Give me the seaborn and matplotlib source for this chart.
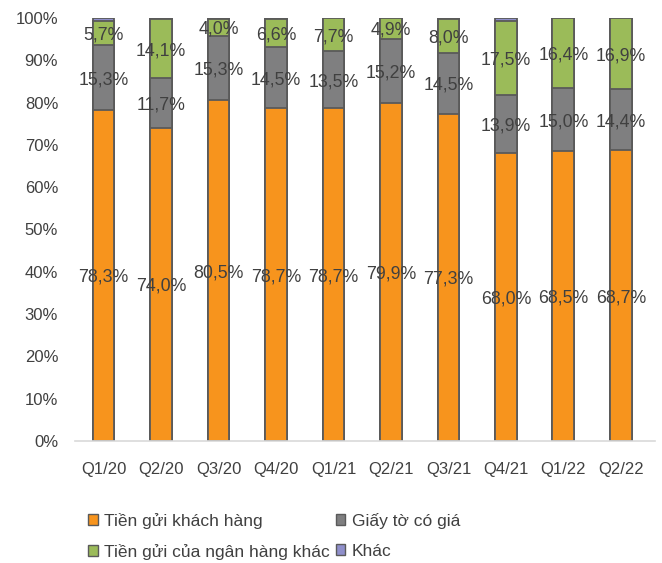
import matplotlib
matplotlib.use("Agg")
import matplotlib.pyplot as plt
import seaborn as sns
import pandas as pd
import numpy as np
from matplotlib.patches import Patch

quarters = ["Q1/20", "Q2/20", "Q3/20", "Q4/20", "Q1/21", "Q2/21", "Q3/21", "Q4/21", "Q1/22", "Q2/22"]
tien_gui_kh = [78.3, 74.0, 80.5, 78.7, 78.7, 79.9, 77.3, 68.0, 68.5, 68.7]
giay_to = [15.3, 11.7, 15.3, 14.5, 13.5, 15.2, 14.5, 13.9, 15.0, 14.4]
tien_gui_nh = [5.7, 14.1, 4.0, 6.6, 7.7, 4.9, 8.0, 17.5, 16.4, 16.9]
khac = [0.7, 0.2, 0.2, 0.2, 0.1, 0.0, 0.2, 0.6, 0.1, 0.0]

series_names = ["Tiền gửi khách hàng", "Giấy tờ có giá", "Tiền gửi của ngân hàng khác", "Khác"]
colors = ["#F7941D", "#7F7F80", "#9BBB59", "#8F8FCB"]

sns.set_style("white")
plt.rcParams["font.family"] = ["Liberation Sans", "DejaVu Sans"]

df = pd.DataFrame({"quarter": quarters, "kh": tien_gui_kh, "gt": giay_to, "nh": tien_gui_nh, "khac": khac})
cols = ["kh", "gt", "nh", "khac"]
cum = df[cols].cumsum(axis=1)

fig = plt.figure(figsize=(6.62, 5.63), dpi=100)
ax = fig.add_axes([0.113, 0.217, 0.877, 0.751])

# stacked bars: draw from the top cumulative down
for i in range(3, -1, -1):
    sns.barplot(x=df["quarter"], y=cum[cols[i]], color=colors[i], width=0.38,
                edgecolor="#5A5A5A", linewidth=1.3, saturation=1, ax=ax)

# labels for first three series
txt = "#404040"
fs = 12
for j in range(len(quarters)):
    base = 0
    for i, c in enumerate(cols[:3]):
        v = df[c][j]
        ax.annotate(f"{v:.1f}%".replace(".", ","), (j, base + v / 2), xytext=(0, -1.5),
                    textcoords="offset points", ha="center", va="center",
                    fontsize=12.8, color=txt)
        base += v

ax.set_ylim(0, 100)
ax.set_xlim(-0.5, 9.6)
ax.set_yticks(np.arange(0, 101, 10))
ax.set_yticklabels([f"{t}%" for t in range(0, 101, 10)])
ax.tick_params(axis="both", length=0, labelsize=fs, labelcolor=txt)
ax.tick_params(axis="x", pad=15)
ax.tick_params(axis="y", pad=12)
ax.set_xlabel("")
ax.set_ylabel("")
for s in ["top", "right", "left"]:
    ax.spines[s].set_visible(False)
ax.spines["bottom"].set_color("#D9D9D9")
ax.spines["bottom"].set_linewidth(1.2)

handles = [Patch(facecolor=colors[i], edgecolor="#5A5A5A", linewidth=1) for i in [0, 2, 1, 3]]
labels = [series_names[i] for i in [0, 2, 1, 3]]
fig.legend(handles, labels, ncol=2, loc="upper left", bbox_to_anchor=(0.11, 0.117),
           frameon=False, fontsize=12.5, handlelength=0.55, handleheight=0.55,
           handletextpad=0.35, columnspacing=0.35, labelspacing=0.86, labelcolor=txt)

fig.savefig("out.png", dpi=100)
